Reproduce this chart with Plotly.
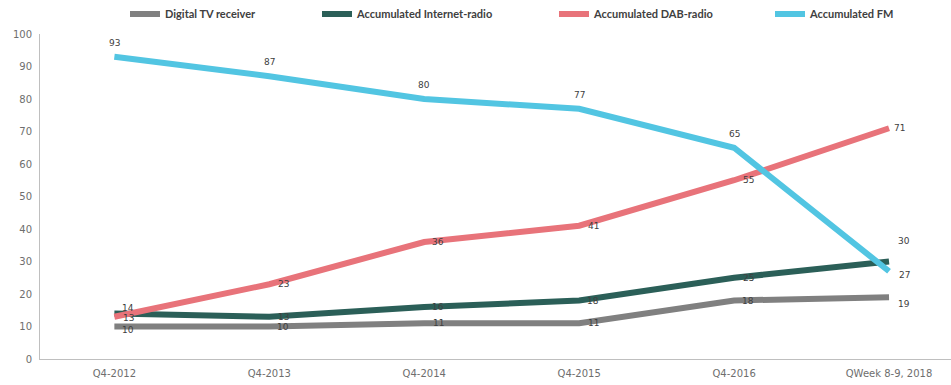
import plotly.graph_objects as go

categories = ["Q4-2012", "Q4-2013", "Q4-2014", "Q4-2015", "Q4-2016", "QWeek 8-9, 2018"]
digital_tv = [10, 10, 11, 11, 18, 19]
internet = [14, 13, 16, 18, 25, 30]
dab = [13, 23, 36, 41, 55, 71]
fm = [93, 87, 80, 77, 65, 27]

series_names = ["Digital TV receiver", "Accumulated Internet-radio", "Accumulated DAB-radio", "Accumulated FM"]
series_values = [digital_tv, internet, dab, fm]
colors = ["#808080", "#2B5F58", "#E8737A", "#52C5E2"]
# label offsets in pixels (xshift, yshift) per point
label_shifts = [
    [(14, -3)] + [(14, 0)] * 4 + [(15, -7)],
    [(14, 6)] + [(14, 0)] * 4 + [(15, 21)],
    [(14, -1)] + [(14, 0)] * 4 + [(10, 0)],
    [(0, 14)] * 5 + [(15, -4)],
]
legend_ids = ["legend", "legend2", "legend3", "legend4"]
legend_x = [125, 317, 554, 770]

fig = go.Figure()
annotations = []
for name, vals, col, shifts, lg in zip(series_names, series_values, colors, label_shifts, legend_ids):
    fig.add_trace(go.Scatter(
        x=categories, y=vals, name=name, mode="lines",
        line=dict(color=col, width=6),
        legend=lg,
    ))
    for c, v, (dx, dy) in zip(categories, vals, shifts):
        annotations.append(dict(
            x=c, y=v, text=str(v), showarrow=False, xshift=dx, yshift=dy,
            font=dict(family="DejaVu Sans", size=9, color="#404040"),
        ))

legend_common = dict(orientation="h", xref="container", yref="container",
                      yanchor="middle", xanchor="left", y=1 - 14 / 385,
                      font=dict(family="Lato", size=11, color="#404040", weight="bold"),
                      itemwidth=30, bgcolor="rgba(0,0,0,0)")
layout_legends = {}
for lg, lx in zip(legend_ids, legend_x):
    layout_legends[lg] = dict(legend_common, x=lx / 951)

fig.update_layout(
    width=951, height=385,
    margin=dict(l=40, r=0, t=25, b=26),
    paper_bgcolor="white", plot_bgcolor="white",
    showlegend=True,
    annotations=annotations,
    xaxis=dict(range=[-0.48, 5.4], showgrid=False, showline=True, linecolor="#BFBFBF",
               linewidth=1, ticks="", ticklabelstandoff=5,
               tickfont=dict(family="DejaVu Sans", size=10, color="#6E6E6E")),
    yaxis=dict(range=[0, 100], dtick=10, showgrid=False, showline=True, linecolor="#BFBFBF",
               linewidth=1, ticks="", zeroline=False, ticklabelstandoff=5,
               tickfont=dict(family="DejaVu Sans", size=10, color="#6E6E6E")),
    **layout_legends,
)

fig.write_html("out.html")
